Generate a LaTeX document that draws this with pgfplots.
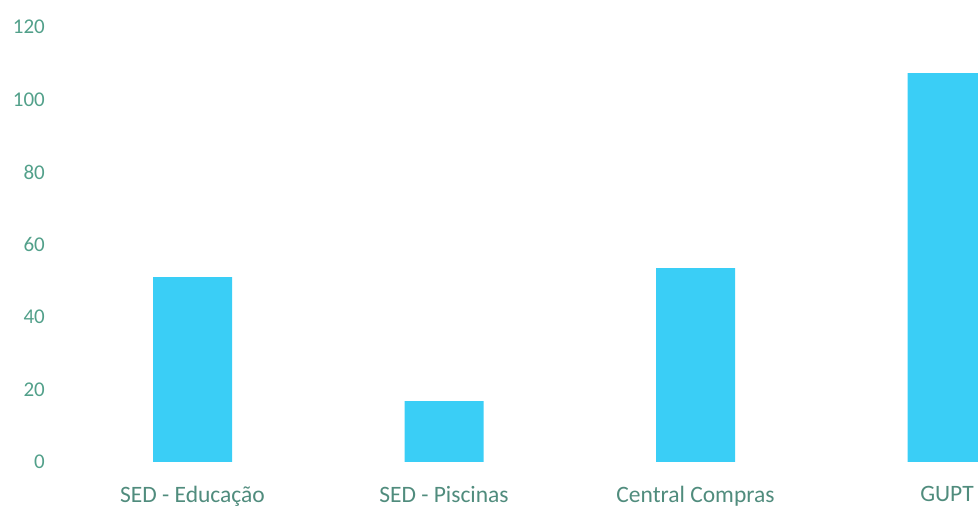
\documentclass[border=0pt]{standalone}
\usepackage{pgfplots}
\pgfplotsset{compat=1.18}
\usepackage{fontspec}
\setmainfont{Carlito}
\definecolor{barblue}{RGB}{58,206,246}
\definecolor{ticktext}{RGB}{82,160,138}
\definecolor{cattext}{RGB}{80,140,125}
\begin{document}
\begin{tikzpicture}[x=1pt,y=1pt]
\path[use as bounding box] (-45pt,-46pt) rectangle (933pt,462pt);
\begin{axis}[
  scale only axis,
  width=933pt, height=435pt,
  xmin=-0.5865, xmax=3.1233,
  ymin=0, ymax=120,
  ytick={0,20,40,60,80,100,120},
  xtick={0,1,2,3},
  xticklabels={SED - Educação, SED - Piscinas, Central Compras, GUPT},
  axis line style={draw=none},
  major tick style={draw=none},
  /pgf/number format/assume math mode=true,
  yticklabel style={font=\fontsize{21}{25}\selectfont, text=ticktext, anchor=east, inner sep=0pt, xshift=0pt},
  xticklabel style={font=\fontsize{23.5}{28}\selectfont, text=cattext, anchor=north, inner sep=0pt, yshift=-24pt},
  clip=true,
]
\addplot[ybar, bar width=79pt, bar shift=0pt, fill=barblue, draw=none]
  coordinates {(0,51) (1,16.8) (2,53.5) (3,107.3)};
\end{axis}
\end{tikzpicture}
\end{document}
